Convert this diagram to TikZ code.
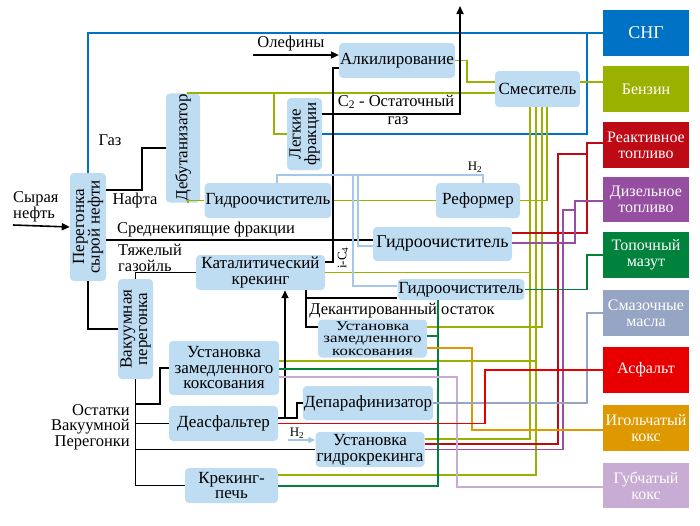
\documentclass[tikz,border=0pt]{standalone}
\usepackage{fontspec}
\setmainfont{Liberation Serif}
\newfontfamily\widefont[FakeStretch=1.25]{Liberation Serif}
\usetikzlibrary{arrows.meta,calc}
\definecolor{plantblue}{RGB}{190,220,242}
\definecolor{sngblue}{RGB}{0,114,198}
\definecolor{benzolive}{RGB}{155,177,0}
\definecolor{jetred}{RGB}{190,10,20}
\definecolor{dieselpurple}{RGB}{150,78,160}
\definecolor{mazutgreen}{RGB}{0,130,60}
\definecolor{oilgray}{RGB}{150,165,195}
\definecolor{asphaltred}{RGB}{232,0,0}
\definecolor{needleorange}{RGB}{222,152,0}
\definecolor{spongelilac}{RGB}{200,172,212}
\definecolor{hydrogen}{RGB}{165,200,232}
\tikzset{plant/.style={fill=plantblue,rounded corners=4pt,inner sep=1pt,align=center,
   font=\fontsize{17}{15.5}\selectfont},
 product/.style={minimum width=86pt,minimum height=46pt,inner sep=1pt,align=center,
   text=white,font=\fontsize{16}{16}\selectfont},
 pipe/.style={line width=1.6pt},
 feed/.style={pipe,-{Triangle[length=8pt,width=7pt]}},
 h2line/.style={hydrogen,line width=1.2pt},
 note/.style={inner sep=0pt,align=left,font=\fontsize{16.5}{15.5}\selectfont},
 small/.style={inner sep=0pt,font=\fontsize{13}{13}\selectfont}}
\begin{document}
\begin{tikzpicture}[x=1pt,y=-1pt]
\useasboundingbox (0,0) rectangle (700,525);
% products
\node[product,fill=sngblue,font=\fontsize{18}{18}\selectfont] (sng) at (646,33) {СНГ};
\node[product,fill=benzolive] (benzin) at (646,89) {Бензин};
\node[product,fill=jetred] (reakt) at (646,145) {Реактивное\\топливо};
\node[product,fill=dieselpurple,minimum height=45pt] (dizel) at (646,199.5) {Дизельное\\топливо};
\node[product,fill=mazutgreen] (mazut) at (646,255) {Топочный\\мазут};
\node[product,fill=oilgray] (masla) at (646,313) {Смазочные\\масла};
\node[product,fill=asphaltred] (asfalt) at (646,370) {Асфальт};
\node[product,fill=needleorange] (igl) at (646,428) {Игольчатый\\кокс};
\node[product,fill=spongelilac,minimum height=45pt] (gub) at (646,485.5) {Губчатый\\кокс};
% units
\node[plant,rotate=90,minimum width=108pt,minimum height=36pt] (per) at (88,227) {Перегонка\\сырой нефти};
\node[plant,rotate=90,minimum width=100pt,minimum height=34pt] (deb) at (183,148) {Дебутанизатор};
\node[plant,rotate=90,minimum width=72pt,minimum height=35pt] (lf) at (304.5,134) {Легкие\\фракции};
\node[plant,rotate=90,minimum width=100pt,minimum height=35pt] (vak) at (135.5,329) {Вакуумная\\перегонка};
\node[plant,minimum width=112pt,minimum height=35pt] (alk) at (397,60.5) {Алкилирование};
\node[plant,minimum width=85pt,minimum height=36pt] (smes) at (537.5,89) {Смеситель};
\node[plant,minimum width=122pt,minimum height=35pt] (gid1) at (268,200.5) {Гидроочиститель};
\node[plant,minimum width=84pt,minimum height=35pt] (ref) at (478,200.5) {Реформер};
\node[plant,minimum width=139pt,minimum height=34pt,font=\fontsize{18}{16}\selectfont] (gid2) at (442.5,244) {Гидроочиститель};
\node[plant,minimum width=129pt,minimum height=35pt] (kat) at (260.5,272.5) {Каталитический\\крекинг};
\node[plant,minimum width=124pt,minimum height=21pt] (gid3) at (461,289.5) {Гидроочиститель};
\node[plant,minimum width=109pt,minimum height=38pt,inner sep=0pt,font=\widefont\fontsize{13.5}{12.5}\selectfont] (zk1) at (372.5,338.5) {Установка\\замедленного\\коксования};
\node[plant,minimum width=110pt,minimum height=54pt] (zk2) at (224,368) {Установка\\замедленного\\коксования};
\node[plant,minimum width=109pt,minimum height=35pt] (deas) at (223.5,423.5) {Деасфальтер};
\node[plant,minimum width=124pt,minimum height=34pt] (dep) at (368,403) {Депарафинизатор};
\node[plant,minimum width=104pt,minimum height=35pt] (gk) at (370,449.5) {Установка\\гидрокрекинга};
\node[plant,minimum width=93pt,minimum height=35pt] (kp) at (231.5,485.5) {Крекинг-\\печь};
% labels
\node[note,anchor=west] (syr) at (13,207) {Сырая\\нефть};
\node[note] (gaz) at (110,140) {Газ};
\node[note] (nafta) at (135,201) {Нафта};
\node[note] (srednie) at (206,230) {Среднекипящие фракции};
\node[note,anchor=west] (tyazh) at (118,258) {Тяжелый\\газойль};
\node[note] (dekant) at (402,311) {Декантированный остаток};
\node[note,anchor=east,align=right] (ostatki) at (130,427) {Остатки\\Вакуумной\\Перегонки};
\node[note] (olef) at (291,44) {Олефины};
\node[note] (c2) at (396,102) {C\textsubscript{2} - Остаточный};
\node[note] (gasres) at (398,121) {газ};
\node[small,rotate=90] (ic4) at (343,258) {i-C\textsubscript{4}};
\node[small] (h2top) at (475,167) {H\textsubscript{2}};
\node[small] (h2bot) at (297,433) {H\textsubscript{2}};
% gas
\draw[pipe,sngblue] (per.east) |- (sng.west);
\draw[pipe,sngblue] (lf.south) -| (587,33);
% gasoline
\draw[pipe,benzolive] (alk.east) -| (467,82) -- ($(smes.west)+(0,-7)$);
\draw[pipe,benzolive] ($(deb.east)+(5,0)$) |- ($(smes.west)+(0,4)$);
\draw[pipe,benzolive] (274,93) |- (lf.north);
\draw[pipe,benzolive] ($(deb.west)+(5,0)$) |- (gid1.west);
\draw[pipe,benzolive] (gid1) -- (ref);
\draw[pipe,benzolive] (ref.east) -| ($(smes.south)+(9.5,0)$);
\draw[pipe,benzolive] (kat.east) -| ($(smes.south)+(-7.5,0)$);
\draw[pipe,benzolive] ($(gk.east)+(0,-10.5)$) -| ($(smes.south)+(-7.5,0)$);
\draw[pipe,benzolive] ($(zk1.east)+(0,-11.5)$) -| ($(smes.south)+(4.5,0)$);
\draw[pipe,benzolive] ($(zk2.east)+(0,-7)$) -| ($(smes.south)+(-1.5,0)$);
\draw[pipe,benzolive] ($(kp.east)+(0,-10.5)$) -| ($(smes.south)+(-1.5,0)$);
\draw[pipe,benzolive] ($(smes.east)+(0,-7)$) -- ($(benzin.west)+(0,-7)$);
% black streams
\coordinate (olefin) at (253,55);
\coordinate (gasout) at (460,6);
\coordinate (crude) at (13,225);
\draw[feed] (crude) -- (per.north);
\draw[feed] (olefin) -- ($(alk.west)+(0,-5.5)$);
\draw[feed] ($(lf.south)+(0,-20)$) -| (gasout);
\draw[pipe] ($(kat.east)+(0,-10.5)$) -- ++(8,0) |- ($(alk.west)+(0,7.5)$);
\draw[pipe] ($(per.south)+(0,-37)$) -- ++(36,0) |- (deb.north);
\draw[pipe] ($(per.south)+(0,13)$) -- ($(gid2.west)+(0,-4)$);
\draw[pipe] (per.west) |- (vak.north);
\draw[pipe] (vak.east) |- (kat.west);
\draw[pipe] ($(kat.south)+(45.5,0)$) |- ($(gid3.west)+(0,8.5)$);
\draw[pipe] ($(kat.south)+(45.5,0)$) |- ($(zk1.west)+(0,-11.5)$);
\draw[pipe] (vak.west) |- (kp.west);
\draw[pipe] ($(vak.west)+(0,25)$) -| ($(zk2.west)+(-9,0)$) -- (zk2.west);
\draw[pipe] (vak.west |- deas.west) -- (deas.west);
\draw[pipe] (vak.west |- gk.west) -- (gk.west);
\draw[feed] ($(deas.east)+(0,-5.5)$) -| ($(kat.south)+(24.5,0)$);
\draw[pipe] ($(deas.east)+(0,-5.5)$) -- ++(19,0) |- (dep.west);
% hydrogen
\draw[h2line] ($(ref.north)+(5,0)$) |- (277,175) -- ($(gid1.north)+(9,0)$);
\draw[h2line] (353,175) |- ($(gid3.west)+(0,-3.5)$);
\draw[h2line] (358,175) |- ($(gid2.west)+(0,2)$);
\coordinate (h2in) at (288,440);
\draw[h2line,-{Triangle[length=7pt,width=6pt]}] (h2in) -- ($(gk.west)+(0,-9.5)$);
% products
\draw[pipe,jetred] ($(gid2.east)+(0,-11)$) -| (587,143) -- ($(reakt.west)+(0,-2)$);
\draw[pipe,jetred] ($(gk.east)+(0,-5.5)$) -| (558,154) -- (587,154);
\draw[pipe,dieselpurple] ($(gid2.east)+(0,-1)$) -| (575,201) -- ($(dizel.west)+(0,1.5)$);
\draw[pipe,dieselpurple] (gk.east) -| (563,210) -- (575,210);
\draw[pipe,mazutgreen] (gid3.east) -| (587,255) -- (mazut.west);
\draw[pipe,mazutgreen] ($(gid3.south)+(-23,0)$) |- ($(kp.east)+(0,0.5)$);
\draw[pipe,mazutgreen] ($(zk1.east)+(0,-2.5)$) -- (438,336);
\draw[pipe,mazutgreen] ($(zk2.east)+(0,1)$) -- (438,369);
\draw[pipe,needleorange] ($(zk1.east)+(0,9.5)$) -| (472,430) -- ($(igl.west)+(0,2)$);
\draw[pipe,spongelilac] ($(zk2.east)+(0,9)$) -| (457,487) -- ($(gub.west)+(0,1.5)$);
\draw[pipe,oilgray] (dep.east) -| (587,313) -- (masla.west);
\draw[pipe,asphaltred] (deas.east) -- (485,423.5) |- (asfalt.west);
\end{tikzpicture}
\end{document}
